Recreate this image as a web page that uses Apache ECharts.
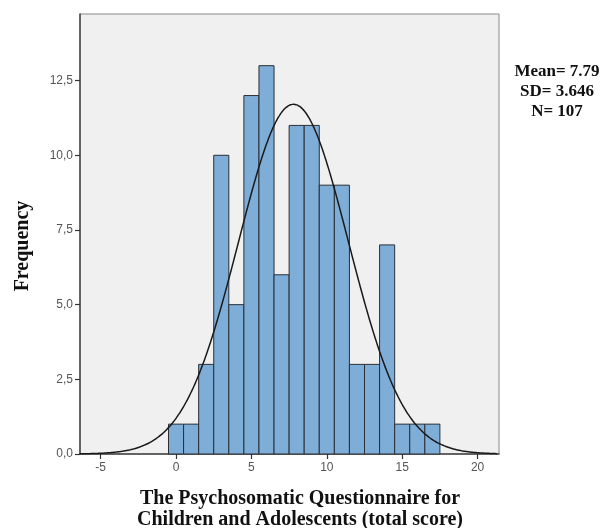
<!DOCTYPE html>
<html>
<head>
<meta charset="utf-8">
<script src="https://cdn.jsdelivr.net/npm/echarts@6/dist/echarts.min.js"></script>
<style>
  html, body { margin: 0; padding: 0; background: #fff; }
  #chart { width: 614px; height: 528px; }
</style>
</head>
<body>
<div id="chart"></div>
<script>
// bin centres (width 1) and counts
var binCenters = [0, 1, 2, 3, 4, 5, 6, 7, 8, 9, 10, 11, 12, 13, 14, 15, 16, 17];
var binCounts  = [1, 1, 3, 10, 5, 12, 13, 6, 11, 11, 9, 9, 3, 3, 7, 1, 1, 1];
// stats shown on the right, used for the fitted normal curve
var statMean = 7.79;
var statSD = 3.646;
var statN = 107;
var xTicks = [-5, 0, 5, 10, 15, 20];
var yTicks = [0, 2.5, 5, 7.5, 10, 12.5];

// normal curve scaled to the counts (bin width 1)
var curve = [];
for (var x = -6.4; x <= 21.4; x += 0.1) {
    var z = (x - statMean) / statSD;
    curve.push([x, statN / (statSD * Math.sqrt(2 * Math.PI)) * Math.exp(-0.5 * z * z)]);
}

var myChart = echarts.init(document.getElementById('chart'));

var option = {
    backgroundColor: '#fff',
    animation: false,
    grid: {
        left: 80, top: 14, right: 115, bottom: 74,
        show: true,
        backgroundColor: '#f0f0f0',
        borderColor: '#8a8a8a',
        borderWidth: 1
    },
    xAxis: {
        type: 'value',
        min: -6.37,
        max: 21.42,
        splitLine: { show: false },
        axisLine: { onZero: false, lineStyle: { color: '#444', width: 1.5 } },
        axisTick: { show: true, customValues: xTicks, length: 5, lineStyle: { color: '#333', width: 1.2 } },
        axisLabel: { customValues: xTicks, color: '#555', fontSize: 12, fontFamily: 'Liberation Sans', margin: 8 }
    },
    yAxis: {
        type: 'value',
        min: 0,
        max: 14.73,
        splitLine: { show: false },
        axisLine: { show: true, onZero: false, lineStyle: { color: '#444', width: 1.5 } },
        axisTick: { show: true, customValues: yTicks, length: 5, lineStyle: { color: '#333', width: 1.2 } },
        axisLabel: {
            customValues: yTicks, color: '#555', fontSize: 12, fontFamily: 'Liberation Sans', margin: 7,
            formatter: function(v) { return v.toFixed(1).replace('.', ','); }
        }
    },
    graphic: [
        {
            type: 'text', rotation: Math.PI / 2, x: 23, y: 246,
            style: { text: 'Frequency', font: 'bold 20px "Liberation Serif"', fill: '#111', align: 'center', verticalAlign: 'middle' }
        },
        {
            type: 'text', x: 300, y: 499,
            style: { text: 'The Psychosomatic Questionnaire for', font: 'bold 20px "Liberation Serif"', fill: '#111', align: 'center', verticalAlign: 'middle' }
        },
        {
            type: 'text', x: 300, y: 520,
            style: { text: 'Children and Adolescents (total score)', font: 'bold 20px "Liberation Serif"', fill: '#111', align: 'center', verticalAlign: 'middle' }
        },
        {
            type: 'text', x: 557, y: 92,
            style: {
                text: 'Mean= ' + statMean + '\nSD= ' + statSD + '\nN= ' + statN,
                font: 'bold 17px "Liberation Serif"', lineHeight: 20, fill: '#111',
                align: 'center', verticalAlign: 'middle'
            }
        }
    ],
    series: [
        {
            type: 'custom',
            data: binCenters.map(function(c, i) { return [c, binCounts[i]]; }),
            renderItem: function(params, api) {
                var c = api.value(0), v = api.value(1);
                var p0 = api.coord([c - 0.5, v]);
                var p1 = api.coord([c + 0.5, 0]);
                return {
                    type: 'rect',
                    shape: { x: p0[0], y: p0[1], width: p1[0] - p0[0], height: p1[1] - p0[1] },
                    style: { fill: '#7eadd8', stroke: '#2b2f35', lineWidth: 1 }
                };
            },
            z: 2
        },
        {
            type: 'line',
            data: curve,
            showSymbol: false,
            smooth: true,
            lineStyle: { color: '#1a1a1a', width: 1.5 },
            z: 3
        }
    ]
};

myChart.setOption(option);
</script>
</body>
</html>
